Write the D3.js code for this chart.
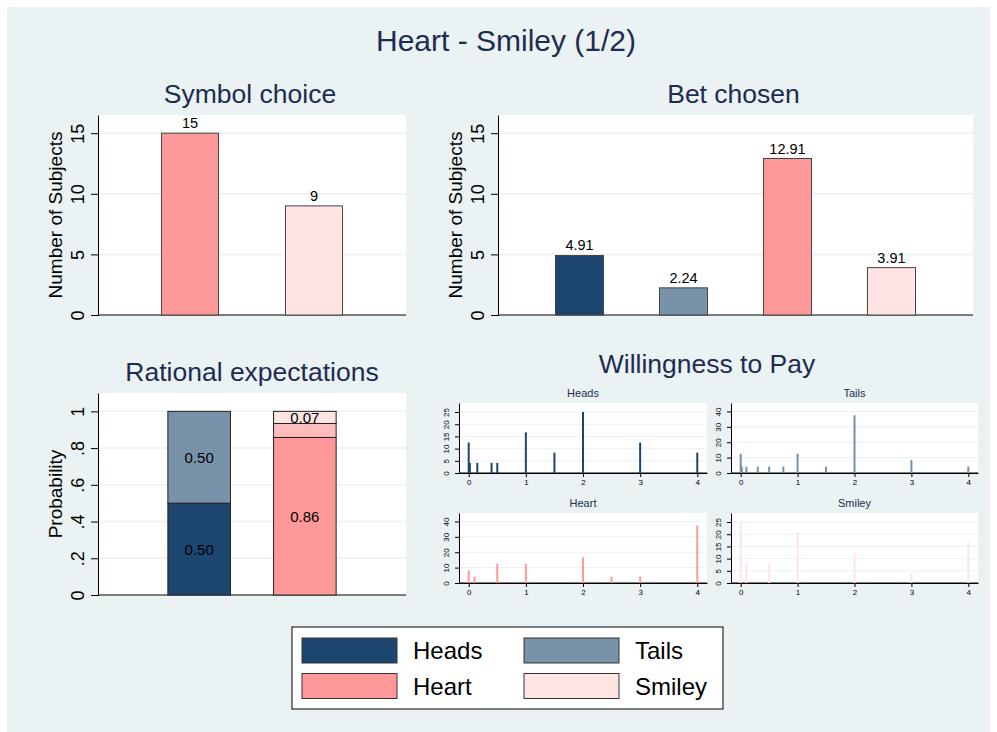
<!DOCTYPE html>
<html>
<head>
<meta charset="utf-8">
<script src="https://cdn.jsdelivr.net/npm/d3@7"></script>
<style>
	body { margin: 0; background: #fff; }
	text { font-family: "Liberation Sans", Arial, sans-serif; }
</style>
</head>
<body>
<svg id="chart" width="997" height="732"></svg>
<script>
// ---- data ----
const symbolCats = ["Heart", "Smiley"];
const symbolCounts = [15, 9];

const betCats = ["Heads", "Tails", "Heart", "Smiley"];
const betCounts = [4.91, 2.24, 12.91, 3.91];
const countTicks = [0, 5, 10, 15];

const ratBars = ["Coin", "Symbol"];
const ratKeys = ["Heads", "Tails", "Heart", "Mid", "Smiley"];
const ratCoin = [0.50, 0.50, 0, 0, 0];
const ratSymbol = [0, 0, 0.858, 0.076, 0.066];
const probTicks = [0, .2, .4, .6, .8, 1];
const probLabels = ["0", ".2", ".4", ".6", ".8", "1"];

const wtpXTicks = [0, 1, 2, 3, 4];
const wtpHeadsX = [0, 0.02, 0.15, 0.4, 0.5, 1, 1.5, 2, 3, 4];
const wtpHeadsPct = [12.5, 4.17, 4.17, 4.17, 4.17, 16.67, 8.33, 25, 12.5, 8.33];
const wtpTailsX = [0, 0.02, 0.1, 0.3, 0.5, 0.75, 1, 1.5, 2, 3, 4];
const wtpTailsPct = [12.5, 4.17, 4.17, 4.17, 4.17, 4.17, 12.5, 4.17, 37.5, 8.33, 4.17];
const wtpHeartX = [0, 0.1, 0.5, 1, 2, 2.5, 3, 4];
const wtpHeartPct = [8.33, 4.17, 12.5, 12.5, 16.67, 4.17, 4.17, 37.5];
const wtpSmileyX = [0, 0.1, 0.5, 1, 2, 3, 4];
const wtpSmileyPct = [25, 8.33, 8.33, 20.83, 12.5, 4.17, 16.67];
const wtpTicksSmall = [0, 5, 10, 15, 20, 25];
const wtpTicksLarge = [0, 10, 20, 30, 40];

const colors = {
	Heads: "#1c4670",
	Tails: "#7892aa",
	Heart: "#ff9999",
	Mid: "#ffbcbc",
	Smiley: "#ffe4e4"
};
const bg = "#eaf2f3";
const titleColor = "#1e2c52";

const svg = d3.select('#chart');

svg.append('rect')
	.attr('x', 7).attr('y', 7)
	.attr('width', 983).attr('height', 725)
	.attr('fill', bg);

svg.append('text')
	.attr('x', 506).attr('y', 51)
	.attr('text-anchor', 'middle')
	.attr('font-size', 30)
	.attr('fill', titleColor)
	.text('Heart - Smiley (1/2)');

function plotFrame(left, right, top, bottom, y, ticks, labels, opt) {
	const g = svg.append('g');
	g.append('rect')
		.attr('x', left).attr('y', top)
		.attr('width', right - left).attr('height', bottom - top)
		.attr('fill', '#fff');

	g.selectAll('.grid')
		.data(ticks.filter(t => t > 0))
		.enter()
		.append('line')
		.attr('x1', left).attr('x2', right)
		.attr('y1', d => y(d)).attr('y2', d => y(d))
		.attr('stroke', bg)
		.attr('stroke-width', opt.gridWidth);

	const axis = g.append('g')
		.attr('transform', `translate(${left},0)`)
		.call(d3.axisLeft(y).tickValues(ticks).tickSize(opt.tickSize).tickSizeOuter(0)
			.tickFormat((d, i) => labels[i]));
	axis.select('.domain').attr('stroke', '#000');
	axis.selectAll('.tick line').attr('stroke', '#000');
	axis.selectAll('.tick text')
		.attr('transform', 'rotate(-90)')
		.attr('x', 0).attr('dy', 0)
		.attr('y', -opt.labelOffset)
		.attr('text-anchor', 'middle')
		.attr('font-size', opt.fontSize)
		.attr('fill', '#000');

	g.append('line')
		.attr('x1', left).attr('x2', right)
		.attr('y1', bottom).attr('y2', bottom)
		.attr('stroke', '#000');
	return g;
}

function panelTitle(x, y, text) {
	svg.append('text')
		.attr('x', x).attr('y', y)
		.attr('text-anchor', 'middle')
		.attr('font-size', 26.5)
		.attr('fill', titleColor)
		.text(text);
}

function yTitle(x, y, text) {
	svg.append('text')
		.attr('transform', `translate(${x},${y}) rotate(-90)`)
		.attr('text-anchor', 'middle')
		.attr('font-size', 19)
		.attr('fill', '#000')
		.text(text);
}

function barPanel(cfg) {
	const y = d3.scaleLinear().domain([0, cfg.max]).range([cfg.bottom, cfg.top]);
	const x = d3.scaleBand().domain(cfg.cats)
		.range([cfg.left, cfg.right])
		.paddingInner(cfg.padIn).paddingOuter(cfg.padOut);

	const g = plotFrame(cfg.left, cfg.right, cfg.top, cfg.bottom, y, countTicks, countTicks.map(String),
		{ tickSize: 7, labelOffset: 14, fontSize: 18, gridWidth: 1.5 });

	g.selectAll('.bar')
		.data(cfg.cats)
		.enter()
		.append('rect')
		.attr('x', d => x(d))
		.attr('y', (d, i) => y(cfg.values[i]))
		.attr('width', x.bandwidth())
		.attr('height', (d, i) => cfg.bottom - y(cfg.values[i]))
		.attr('fill', d => colors[d])
		.attr('stroke', '#444')
		.attr('stroke-width', 1);

	g.selectAll('.lbl')
		.data(cfg.cats)
		.enter()
		.append('text')
		.attr('x', d => x(d) + x.bandwidth() / 2)
		.attr('y', (d, i) => y(cfg.values[i]) - 5)
		.attr('text-anchor', 'middle')
		.attr('font-size', 14.5)
		.text((d, i) => cfg.values[i]);

	panelTitle((cfg.left + cfg.right) / 2 - 2, 103, cfg.title);
	yTitle(cfg.left - 36, (cfg.top + cfg.bottom) / 2, 'Number of Subjects');
}

barPanel({
	left: 98, right: 406, top: 115, bottom: 315, max: 16.5,
	cats: symbolCats, values: symbolCounts, padIn: 0.54, padOut: 0.512,
	title: 'Symbol choice'
});

barPanel({
	left: 498, right: 973, top: 115, bottom: 315, max: 16.5,
	cats: betCats, values: betCounts, padIn: 0.538, padOut: 0.553,
	title: 'Bet chosen'
});

// ---- Rational expectations (stacked) ----
(function () {
	const left = 98, right = 406, top = 393, bottom = 595;
	const y = d3.scaleLinear().domain([0, 1.1]).range([bottom, top]);
	const x = d3.scaleBand().domain(ratBars).range([left, right])
		.paddingInner(0.408).paddingOuter(0.661);

	const g = plotFrame(left, right, top, bottom, y, probTicks, probLabels,
		{ tickSize: 7, labelOffset: 14, fontSize: 18, gridWidth: 1.5 });

	const rows = [ratCoin, ratSymbol].map((vals, i) => {
		const row = { bar: ratBars[i] };
		ratKeys.forEach((k, j) => row[k] = vals[j]);
		return row;
	});
	const series = d3.stack().keys(ratKeys)(rows);

	series.forEach(s => {
		s.forEach(seg => {
			const v = seg[1] - seg[0];
			if (v <= 0) return;
			g.append('rect')
				.attr('x', x(seg.data.bar))
				.attr('y', y(seg[1]))
				.attr('width', x.bandwidth())
				.attr('height', y(seg[0]) - y(seg[1]))
				.attr('fill', colors[s.key])
				.attr('stroke', '#222')
				.attr('stroke-width', 1);
		});
	});
	series.forEach(s => {
		if (s.key === 'Mid') return;
		s.forEach(seg => {
			const v = seg[1] - seg[0];
			if (v <= 0) return;
			g.append('text')
				.attr('x', x(seg.data.bar) + x.bandwidth() / 2)
				.attr('y', y((seg[0] + seg[1]) / 2) + 5.5)
				.attr('text-anchor', 'middle')
				.attr('font-size', 15)
				.text(d3.format('.2f')(v));
		});
	});

	panelTitle(252, 381, 'Rational expectations');
	yTitle(62, (top + bottom) / 2, 'Probability');
})();

// ---- Willingness to Pay ----
panelTitle(707, 373, 'Willingness to Pay');

function wtpPanel(cfg) {
	const x = d3.scaleLinear().domain([-0.17, 4.17]).range([cfg.left, cfg.right]);
	const y = d3.scaleLinear().domain([0, cfg.max]).range([cfg.bottom, cfg.top]);

	const g = plotFrame(cfg.left, cfg.right, cfg.top, cfg.bottom, y, cfg.ticks, cfg.ticks.map(String),
		{ tickSize: 4, labelOffset: 10, fontSize: 8, gridWidth: 1 });

	const xAxis = g.append('g')
		.attr('transform', `translate(0,${cfg.bottom})`)
		.call(d3.axisBottom(x).tickValues(wtpXTicks).tickSize(4).tickSizeOuter(0)
			.tickFormat(d3.format('d')));
	xAxis.select('.domain').attr('stroke', '#000');
	xAxis.selectAll('.tick line').attr('stroke', '#000');
	xAxis.selectAll('.tick text')
		.attr('font-size', 8)
		.attr('fill', '#000')
		.attr('y', 6);

	g.selectAll('.spike')
		.data(cfg.xs)
		.enter()
		.append('rect')
		.attr('x', d => x(d) - 1)
		.attr('y', (d, i) => y(cfg.pct[i]))
		.attr('width', 2)
		.attr('height', (d, i) => cfg.bottom - y(cfg.pct[i]))
		.attr('fill', cfg.color);

	svg.append('text')
		.attr('x', (cfg.left + cfg.right) / 2)
		.attr('y', cfg.top - 6)
		.attr('text-anchor', 'middle')
		.attr('font-size', 11)
		.attr('fill', titleColor)
		.text(cfg.title);
}

wtpPanel({ left: 459, right: 707, top: 403, bottom: 473, max: 28.7, ticks: wtpTicksSmall,
	xs: wtpHeadsX, pct: wtpHeadsPct, color: colors.Heads, title: 'Heads' });
wtpPanel({ left: 731, right: 978, top: 403, bottom: 473, max: 45.5, ticks: wtpTicksLarge,
	xs: wtpTailsX, pct: wtpTailsPct, color: colors.Tails, title: 'Tails' });
wtpPanel({ left: 459, right: 707, top: 513, bottom: 583, max: 45.5, ticks: wtpTicksLarge,
	xs: wtpHeartX, pct: wtpHeartPct, color: colors.Heart, title: 'Heart' });
wtpPanel({ left: 731, right: 978, top: 513, bottom: 583, max: 28.7, ticks: wtpTicksSmall,
	xs: wtpSmileyX, pct: wtpSmileyPct, color: colors.Smiley, title: 'Smiley' });

// ---- legend ----
const legend = svg.append('g');
legend.append('rect')
	.attr('x', 292).attr('y', 627)
	.attr('width', 431).attr('height', 82)
	.attr('fill', '#fff')
	.attr('stroke', '#000');

betCats.forEach((cat, i) => {
	const col = i % 2, row = Math.floor(i / 2);
	const gx = 302 + col * 222, gy = 638 + row * 35.5;
	legend.append('rect')
		.attr('x', gx).attr('y', gy)
		.attr('width', 95).attr('height', 25)
		.attr('fill', colors[cat])
		.attr('stroke', '#333');
	legend.append('text')
		.attr('x', gx + 111).attr('y', gy + 21)
		.attr('font-size', 24)
		.text(cat);
});
</script>
</body>
</html>
